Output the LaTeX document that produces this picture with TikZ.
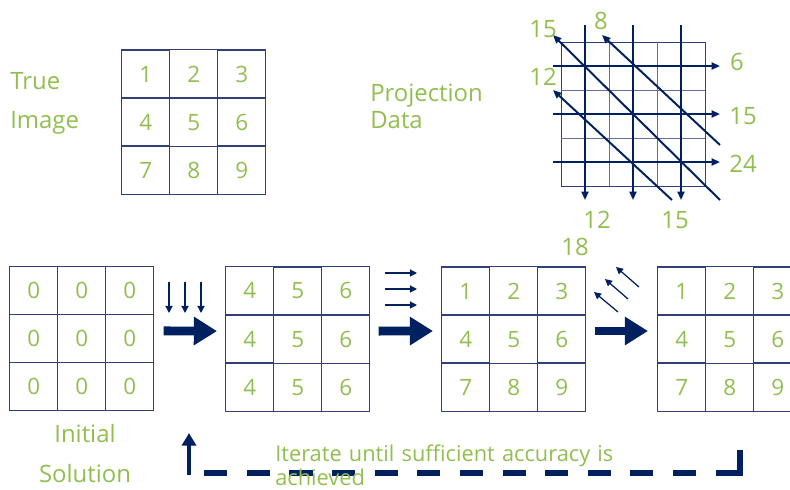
\documentclass[tikz,border=0pt]{standalone}
\usepackage{fontspec}
\setmainfont{Open Sans}
\usetikzlibrary{matrix,arrows.meta,positioning}
\definecolor{navycol}{RGB}{0,32,96}
\definecolor{gridcol}{RGB}{50,64,120}
\definecolor{textcol}{RGB}{146,190,80}

\tikzset{
  cell/.style={draw=gridcol, line width=0.8pt, minimum size=1.2cm, inner sep=0pt,
    text=textcol, font=\fontsize{16}{19}\selectfont},
  numgrid/.style={matrix of nodes, nodes={cell}, column sep=-0.8pt, row sep=-0.8pt,
    inner sep=0pt, anchor=north west},
  lbl/.style={text=textcol, font=\fontsize{17}{20}\selectfont, inner sep=0pt},
  projarrow/.style={navycol, line width=1.4pt, -{Triangle[length=6pt,width=5pt]}},
  thinarrow/.style={navycol, line width=0.9pt, -{Triangle[length=5pt,width=5pt]}},
  bigarrow/.style={navycol, line width=0.22cm, -{Triangle[length=0.58cm,width=0.68cm]}},
  loopline/.style={navycol, line width=3.7pt},
}

\begin{document}
\begin{tikzpicture}[x=0.025cm, y=-0.025cm]
    \useasboundingbox (0,0) rectangle (790,489);

    % true image
    \node[lbl, anchor=base west] (true1) at (10,89) {True};
    \node[lbl, anchor=base west] (true2) at (10,128) {Image};
    \matrix (gT) [numgrid] at (121,49) {
      1 & 2 & 3 \\
      4 & 5 & 6 \\
      7 & 8 & 9 \\
    };

    % projection data
    \node[lbl, anchor=base west] (proj1) at (370,101) {Projection};
    \node[lbl, anchor=base west] (proj2) at (370,128) {Data};
    \node[draw=gridcol, line width=0.8pt, minimum size=3.6cm, inner sep=0pt,
      anchor=north west] (proj) at (561,42) {};
    \foreach \k in {1,...,5} {
      \draw[gridcol!75, line width=0.6pt] ({561+24*\k},42) -- ({561+24*\k},186);
      \draw[gridcol!75, line width=0.6pt] (561,{42+24*\k}) -- (705,{42+24*\k});
    }
    \foreach \y in {66,114,162}
      \draw[projarrow] (553,\y) -- (720,\y);
    \foreach \x in {585,633,681}
      \draw[projarrow] (\x,25) -- (\x,200);
    \draw[projarrow] (720,145) -- (602,35);
    \draw[projarrow] (720,200) -- (553,35);
    \draw[projarrow] (672,200) -- (553,90);

    \node[lbl] (s6) at (737,62) {6};
    \node[lbl] (s15r) at (743,116) {15};
    \node[lbl] (s24) at (743,164) {24};
    \node[lbl] (s12b) at (597,220) {12};
    \node[lbl] (s15b) at (675,220) {15};
    \node[lbl] (s18) at (575,247) {18};
    \node[lbl] (s15t) at (543,29) {15};
    \node[lbl] (s8) at (601,21) {8};
    \node[lbl] (s12l) at (543,77) {12};

    % iterations
    \matrix (gA) [numgrid] at (9,266) {
      0 & 0 & 0 \\
      0 & 0 & 0 \\
      0 & 0 & 0 \\
    };
    \matrix (gB) [numgrid] at (225,266) {
      4 & 5 & 6 \\
      4 & 5 & 6 \\
      4 & 5 & 6 \\
    };
    \matrix (gC) [numgrid] at (441,266) {
      1 & 2 & 3 \\
      4 & 5 & 6 \\
      7 & 8 & 9 \\
    };
    \matrix (gD) [numgrid] at (657,266) {
      1 & 2 & 3 \\
      4 & 5 & 6 \\
      7 & 8 & 9 \\
    };

    \draw[bigarrow] ([shift={(9,-8)}]gA.east) -- ([shift={(-8,-8)}]gB.west);
    \draw[bigarrow] ([shift={(8,-8)}]gB.east) -- ([shift={(-8,-8)}]gC.west);
    \draw[bigarrow] ([shift={(8,-8)}]gC.east) -- ([shift={(-9,-8)}]gD.west);

    \foreach \x in {169,185,201}
      \draw[thinarrow] (\x,282) -- (\x,313);
    \foreach \y in {273,289,305}
      \draw[thinarrow] (385,\y) -- (417,\y);
    \draw[thinarrow] (639,287) -- (616,267);
    \draw[thinarrow] (628,299) -- (605,279);
    \draw[thinarrow] (618,312) -- (594,292);

    \node[lbl, anchor=base] (init1) at (85,442) {Initial};
    \node[lbl, anchor=base] (init2) at (85,482) {Solution};

    % loop back
    \coordinate (loopstart) at (740,450);
    \coordinate (loopcorner) at (716,473);
    \coordinate (loopmid) at (696,473);
    \coordinate (loopfoot) at (197,473);
    \coordinate (looptop) at (189,433);
    \draw[loopline] (loopstart) |- (loopcorner);
    \draw[loopline, dash pattern=on 16.4pt off 13.9pt] (loopmid) -- (loopfoot);
    \draw[navycol, line width=3.2pt, -{Triangle[length=9pt,width=10pt]}]
      (189,475) -- (looptop);

    \node[lbl, font=\fontsize{15.5}{19}\selectfont, anchor=base west] (iter1) at (275,461)
      {\makebox[8.45cm][s]{Iterate until sufficient accuracy is}};
    \node[lbl, font=\fontsize{15.5}{19}\selectfont, anchor=base west] (iter2) at (275,485) {achieved};
\end{tikzpicture}
\end{document}
